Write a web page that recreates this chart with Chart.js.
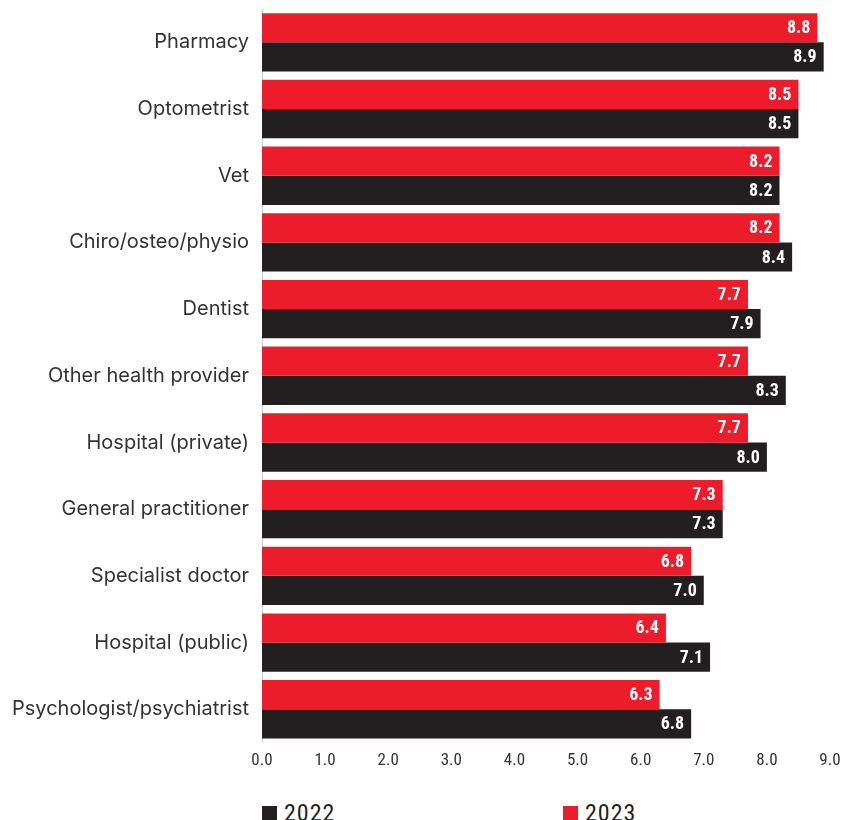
<!DOCTYPE html>
<html><head><meta charset="utf-8">
<script src="https://cdn.jsdelivr.net/npm/chart.js@4"></script>
<style>
html,body{margin:0;padding:0;background:#fff;}
#wrap{position:relative;width:844px;height:820px;}
#c{position:absolute;left:0;top:0;}
.leg{position:absolute;top:799px;font-family:'Roboto Condensed','Liberation Sans Narrow','Roboto',sans-serif;font-size:24px;letter-spacing:1px;color:#231F20;display:flex;align-items:center;}
.leg span.b{display:inline-block;width:15px;height:15px;margin-right:7px;}
</style></head>
<body><div id="wrap"><canvas id="c" width="844" height="779"></canvas>
<div class="leg" style="left:262px"><span class="b" style="background:#231F20"></span>2022</div>
<div class="leg" style="left:563px"><span class="b" style="background:#ED1C2B"></span>2023</div>
</div>
<script>
const categories = ["Pharmacy","Optometrist","Vet","Chiro/osteo/physio","Dentist","Other health provider","Hospital (private)","General practitioner","Specialist doctor","Hospital (public)","Psychologist/psychiatrist"];
const values2023 = [8.8,8.5,8.2,8.2,7.7,7.7,7.7,7.3,6.8,6.4,6.3];
const values2022 = [8.9,8.5,8.2,8.4,7.9,8.3,8.0,7.3,7.0,7.1,6.8];
const xTicks = [0,1,2,3,4,5,6,7,8,9];

const labelPlugin = {
  id:'barLabels',
  afterDatasetsDraw(chart){
    const ctx = chart.ctx;
    ctx.save();
    ctx.fillStyle='#fff';
    ctx.font="bold 18px 'Roboto Condensed', 'Liberation Sans Narrow', Roboto, sans-serif";
    ctx.textAlign='right';
    ctx.textBaseline='middle';
    chart.data.datasets.forEach((ds,i)=>{
      chart.getDatasetMeta(i).data.forEach((bar,j)=>{
        ctx.fillText(ds.data[j].toFixed(1), bar.x-7, bar.y+1);
      });
    });
    ctx.restore();
  }
};

new Chart(document.getElementById('c'),{
  type:'bar',
  data:{labels:categories,datasets:[
    {label:'2023',data:values2023,backgroundColor:'#ED1C2B',categoryPercentage:0.875,barPercentage:1.0},
    {label:'2022',data:values2022,backgroundColor:'#231F20',categoryPercentage:0.875,barPercentage:1.0}
  ]},
  options:{
    indexAxis:'y',responsive:false,animation:false,
    layout:{padding:{top:9,right:14,left:0,bottom:0}},
    plugins:{legend:{display:false},tooltip:{enabled:false}},
    scales:{
      x:{min:0,max:9,afterBuildTicks(s){s.ticks=xTicks.map(v=>({value:v}));},
        afterFit(s){s.paddingLeft=0;s.paddingRight=0;},
        grid:{display:false,drawTicks:false},border:{display:false},
        ticks:{callback:v=>Number(v).toFixed(1),color:'#333',padding:8,maxRotation:0,autoSkip:false,
          font:{family:"'Roboto Condensed','Liberation Sans Narrow', Roboto, sans-serif",size:17}}},
      y:{grid:{display:false,drawTicks:false},border:{display:true,color:'#cccccc',width:1},
        afterFit(s){s.width=262;s.paddingTop=0;s.paddingBottom=0;},
        ticks:{color:'#333',padding:13,font:{family:"Inter, 'Noto Sans', sans-serif",size:20}}}
    }
  },
  plugins:[labelPlugin]
});
</script></body></html>
